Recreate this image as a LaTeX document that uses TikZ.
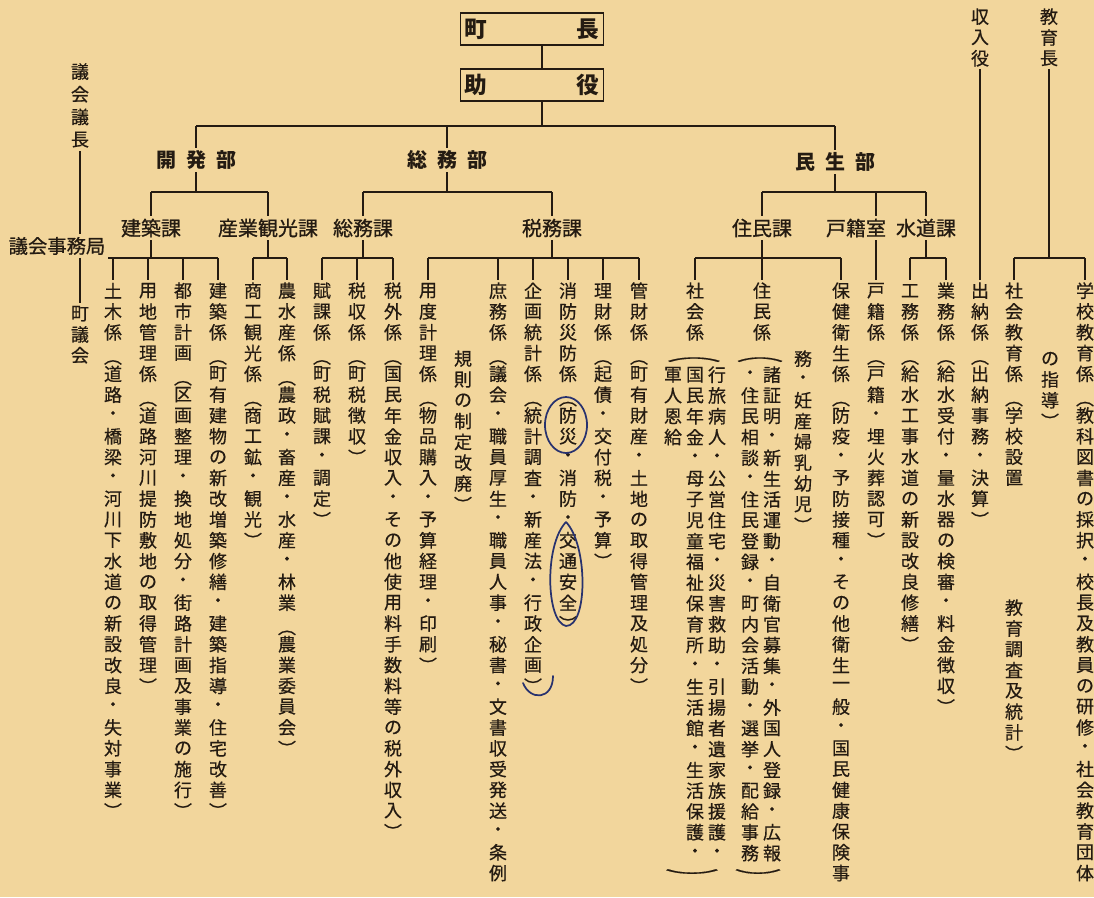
\documentclass[tikz,border=0pt]{standalone}
\usepackage{fontspec}
\usepackage{graphicx}
\usepackage{tikz}
\newfontfamily\jp{Noto Sans CJK JP}
\newfontfamily\jpm[FakeBold=0.8]{Noto Sans CJK JP}
\newfontfamily\jpv[FakeBold=0.5]{Noto Sans CJK JP}
\definecolor{paper}{RGB}{242,214,156}
\definecolor{ink}{RGB}{36,27,18}
\definecolor{pen}{RGB}{40,50,110}
\newlength\vpitch
\setlength\vpitch{15.6pt}
\def\vsub#1{\ifx#1（\raisebox{-0.2em}[0.88em][0.12em]{︵}\else\ifx#1）︶\else#1\fi\fi}
\newcommand\vchar[1]{\hbox to \vpitch{\hss\vbox to \vpitch{\vss\hbox{\vsub{#1}}\vss}\hss}}
\def\vloop#1{\ifx#1\relax\else\vchar{#1}\expandafter\vloop\fi}
\newcommand\vtxt[1]{\vbox{\offinterlineskip\vloop#1\relax}}

\begin{document}
\begin{tikzpicture}[x=0.75pt,y=0.75pt,yscale=-1,xscale=1,
  line/.style={draw=ink,line width=0.9pt},
  col/.style={anchor=north,inner sep=0pt,text=ink,font=\jpv\fontsize{13.5}{15}\selectfont},
  topbox/.style={draw=ink,line width=1pt,minimum width=107pt,minimum height=24pt,inner sep=0pt,text=ink,font=\jp\bfseries\fontsize{17}{17}\selectfont},
  bu/.style={fill=paper,inner sep=2pt,text=ink,font=\jp\bfseries\fontsize{15}{15}\selectfont},
  ka/.style={fill=paper,inner sep=2pt,text=ink,font=\jpm\fontsize{15}{15}\selectfont},
  penmark/.style={draw=pen,line width=1.3pt,line cap=round}]

%Paper
\fill[paper] (0,0) rectangle (1094,897);
\useasboundingbox (0,0) rectangle (1094,897);

%Bus levels
\coordinate (y0) at (0,126);
\coordinate (y1) at (0,192);
\coordinate (y2) at (0,258);
\coordinate (hc) at (542,0);

% Head boxes
\node[topbox] (chocho) at (532,29) {\makebox[101pt]{町\hfill 長}};
\node[topbox] (jyoyaku) at (532,85) {\makebox[101pt]{助\hfill 役}};

% Bu labels
\node[bu] (kaihatsu) at (196,160) {開\enspace 発\enspace 部};
\node[bu] (somu) at (447,160) {総\enspace 務\enspace 部};
\node[bu] (minsei) at (835,162) {民\enspace 生\enspace 部};

% Ka labels
\node[ka] (kenchikuka) at (151,228) {建築課};
\node[ka] (sangyo) at (268,228) {産業観光課};
\node[ka] (somuka) at (363,228) {総務課};
\node[ka] (zeimuka) at (552,228) {税務課};
\node[ka] (juminka) at (762,228) {住民課};
\node[ka] (kosekishitsu) at (856,228) {戸籍室};
\node[ka] (suidoka) at (926,228) {水道課};
\node[ka,font=\jpm\fontsize{14.5}{15}\selectfont] (gikaijimu) at (57,246) {議会事務局};

% Side heads
\node[col] (gikaigicho) at (80,60) {\setlength\vpitch{17pt}\vtxt{議会議長}};
\node[col] (shunyu) at (980,6) {\vtxt{収入役}};
\node[col] (kyoikucho) at (1049,6) {\vtxt{教育長}};

% Columns
\node[col] (chogikai) at (80,303) {\vtxt{町議会}};
\node[col] (doboku) at (113,280) {\vtxt{土木係（道路・橋梁・河川下水道の新設改良・失対事業）}};
\node[col] (yochi) at (148,280) {\vtxt{用地管理係（道路河川提防敷地の取得管理）}};
\node[col] (toshi) at (183,280) {\vtxt{都市計画（区画整理・換地処分・街路計画及事業の施行）}};
\node[col] (kenchikukei) at (218,280) {\vtxt{建築係（町有建物の新改増築修繕・建築指導・住宅改善）}};
\node[col] (shoko) at (253,280) {\vtxt{商工観光係（商工鉱・観光）}};
\node[col] (nosui) at (287,280) {\vtxt{農水産係（農政・畜産・水産・林業（農業委員会）}};
\node[col] (fuka) at (322,280) {\vtxt{賦課係（町税賦課・調定）}};
\node[col] (zeishu) at (357,280) {\vtxt{税収係（町税徴収）}};
\node[col] (zeigai) at (393,280) {\vtxt{税外係（国民年金収入・その他使用料手数料等の税外収入）}};
\node[col] (yodo) at (428,280) {\vtxt{用度計理係（物品購入・予算経理・印刷）}};
\node[col] (kisoku) at (463,348) {\vtxt{規則の制定改廃）}};
\node[col] (shomu) at (498,280) {\vtxt{庶務係（議会・職員厚生・職員人事・秘書・文書収受発送・条例}};
\node[col] (kikaku) at (533,280) {\vtxt{企画統計係（統計調査・新産法・行政企画）}};
\node[col] (shobo) at (568,280) {\vtxt{消防災防係（防災・消防・交通安全）}};
\node[col] (rizai) at (603,280) {\vtxt{理財係（起債・交付税・予算）}};
\node[col] (kanzai) at (639,280) {\vtxt{管財係（町有財産・土地の取得管理及処分）}};
\node[col] (shakai) at (695,280) {\vtxt{社会係}};
\node[col] (shakaiopen) at (694,349) {\vchar{\scalebox{3}[1]{︵}}};
\node[col] (shakair) at (717,364) {\vtxt{行旅病人・公営住宅・災害救助・引揚者遺家族援護・}};
\node[col] (shakaim) at (695,364) {\vtxt{国民年金・母子児童福祉保育所・生活館・生活保護・}};
\node[col] (shakail) at (673,364) {\vtxt{軍人恩給}};
\node[col] (shakaiclose) at (692,866) {\vchar{\scalebox{3}[1]{︶}}};
\node[col] (jumin) at (762,280) {\vtxt{住民係}};
\node[col] (juminopen) at (760,349) {\vchar{\scalebox{2.6}[1]{︵}}};
\node[col] (juminr) at (772,364) {\vtxt{諸証明・新生活運動・自衛官募集・外国人登録・広報}};
\node[col] (juminl) at (750,364) {\vtxt{・住民相談・住民登録・町内会活動・選挙・配給事務}};
\node[col] (juminclose) at (758,866) {\vchar{\scalebox{2.6}[1]{︶}}};
\node[col] (hokencont) at (803,348) {\vtxt{務・妊産婦乳幼児）}};
\node[col] (hoken) at (841,280) {\vtxt{保健衛生係（防疫・予防接種・その他衛生一般・国民健康保険事}};
\node[col] (koseki) at (876,280) {\vtxt{戸籍係（戸籍・埋火葬認可）}};
\node[col] (komu) at (910,280) {\vtxt{工務係（給水工事水道の新設改良修繕）}};
\node[col] (gyomu) at (946,280) {\vtxt{業務係（給水受付・量水器の検審・料金徴収）}};
\node[col] (suito) at (980,280) {\vtxt{出納係（出納事務・決算）}};
\node[col] (shakyo) at (1014,280) {\vtxt{社会教育係（学校設置}};
\node[col] (shakyocont) at (1014,597) {\vtxt{教育調査及統計）}};
\node[col] (shido) at (1050,348) {\vtxt{の指導）}};
\node[col] (gakko) at (1085,280) {\vtxt{学校教育係（教科図書の採択・校長及教員の研修・社会教育団体}};

%Straight Lines: head
\draw[line] (chocho.south -| hc) -- (jyoyaku.north -| hc);
\draw[line] (jyoyaku.south -| hc) -- (hc |- y0);
\draw[line] (kaihatsu.north |- y0) -- (minsei.north |- y0);
\draw[line] (kaihatsu.north |- y0) -- (kaihatsu.north);
\draw[line] (somu.north |- y0) -- (somu.north);
\draw[line] (minsei.north |- y0) -- (minsei.north);

%Straight Lines: bu to ka
\draw[line] (kaihatsu.south) -- (kaihatsu.south |- y1);
\draw[line] (kenchikuka.north |- y1) -- (sangyo.north |- y1);
\draw[line] (kenchikuka.north |- y1) -- (kenchikuka.north);
\draw[line] (sangyo.north |- y1) -- (sangyo.north);
\draw[line] (somu.south) -- (somu.south |- y1);
\draw[line] (somuka.north |- y1) -- (zeimuka.north |- y1);
\draw[line] (somuka.north |- y1) -- (somuka.north);
\draw[line] (zeimuka.north |- y1) -- (zeimuka.north);
\draw[line] (minsei.south) -- (minsei.south |- y1);
\draw[line] (juminka.north |- y1) -- (suidoka.north |- y1);
\draw[line] (juminka.north |- y1) -- (juminka.north);
\draw[line] (koseki.north |- y1) -- (koseki.north |- kosekishitsu.north);
\draw[line] (suidoka.north |- y1) -- (suidoka.north);

%Straight Lines: gikai
\draw[line] (gikaigicho.south) -- (gikaigicho.south |- gikaijimu.north);
\draw[line] (chogikai.north |- gikaijimu.south) -- (chogikai.north);

%Straight Lines: ka to kakari
\draw[line] (gikaijimu.south east |- y2) -- (kenchikukei.north |- y2);
\draw[line] (kenchikuka.south) -- (kenchikuka.south |- y2);
\draw[line] (doboku.north |- y2) -- (doboku.north);
\draw[line] (yochi.north |- y2) -- (yochi.north);
\draw[line] (toshi.north |- y2) -- (toshi.north);
\draw[line] (kenchikukei.north |- y2) -- (kenchikukei.north);
\draw[line] (shoko.north |- y2) -- (nosui.north |- y2);
\draw[line] (sangyo.south) -- (sangyo.south |- y2);
\draw[line] (shoko.north |- y2) -- (shoko.north);
\draw[line] (nosui.north |- y2) -- (nosui.north);
\draw[line] (fuka.north |- y2) -- (zeigai.north |- y2);
\draw[line] (somuka.south) -- (somuka.south |- y2);
\draw[line] (fuka.north |- y2) -- (fuka.north);
\draw[line] (zeishu.north |- y2) -- (zeishu.north);
\draw[line] (zeigai.north |- y2) -- (zeigai.north);
\draw[line] (yodo.north |- y2) -- (kanzai.north |- y2);
\draw[line] (zeimuka.south) -- (zeimuka.south |- y2);
\draw[line] (yodo.north |- y2) -- (yodo.north);
\draw[line] (shomu.north |- y2) -- (shomu.north);
\draw[line] (kikaku.north |- y2) -- (kikaku.north);
\draw[line] (shobo.north |- y2) -- (shobo.north);
\draw[line] (rizai.north |- y2) -- (rizai.north);
\draw[line] (kanzai.north |- y2) -- (kanzai.north);
\draw[line] (shakai.north |- y2) -- (hoken.north |- y2);
\draw[line] (juminka.south) -- (jumin.north);
\draw[line] (shakai.north |- y2) -- (shakai.north);
\draw[line] (hoken.north |- y2) -- (hoken.north);
\draw[line] (koseki.north |- kosekishitsu.south) -- (koseki.north);
\draw[line] (komu.north |- y2) -- (gyomu.north |- y2);
\draw[line] (suidoka.south) -- (suidoka.south |- y2);
\draw[line] (komu.north |- y2) -- (komu.north);
\draw[line] (gyomu.north |- y2) -- (gyomu.north);
\draw[line] (shunyu.south) -- (suito.north);
\draw[line] (shakyo.north |- y2) -- (gakko.north |- y2);
\draw[line] (kyoikucho.south) -- (kyoikucho.south |- y2);
\draw[line] (shakyo.north |- y2) -- (shakyo.north);
\draw[line] (gakko.north |- y2) -- (gakko.north);

%Pen marks
\draw[penmark] (566,425) ellipse [x radius=21,y radius=28];
\draw[penmark] (566,522) .. controls (544,545) and (546,622) .. (566,626) .. controls (588,626) and (588,545) .. (566,522);
\draw[penmark] (523,683) .. controls (530,701) and (553,700) .. (553,676);

\end{tikzpicture}
\end{document}
